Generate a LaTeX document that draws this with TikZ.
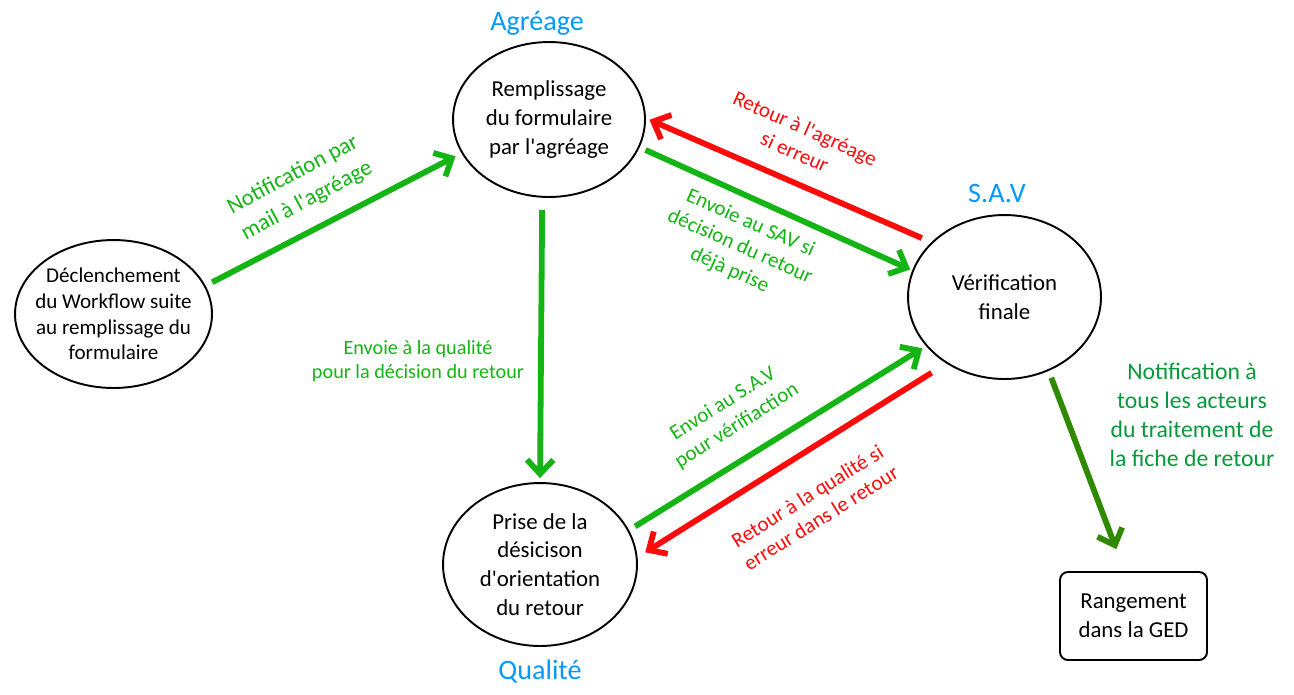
\documentclass[tikz,border=0pt]{standalone}
\usepackage{fontspec}
\setmainfont{Carlito}[Ligatures=TeXOff]
\usepackage{xcolor}
\usetikzlibrary{arrows.meta,shapes.geometric}
\definecolor{arrow_green}{HTML}{14B414}
\definecolor{dark_green}{HTML}{2F8A00}
\definecolor{text_green}{HTML}{05993A}
\definecolor{title_blue}{HTML}{0099FF}
\definecolor{arrow_red}{HTML}{FF0A0A}

\begin{document}
\begin{tikzpicture}[x=0.02cm, y=-0.02cm,
	etape/.style={draw, ellipse, line width=1.1pt, inner sep=-12pt, outer sep=0pt, align=center, font=\fontsize{13}{16.4}\selectfont},
	fleche/.style={line width=3.3pt, -{Straight Barb[length=8pt, width=15pt]}},
	legende/.style={align=center, font=\fontsize{12}{14.6}\selectfont},
	service/.style={text=title_blue, font=\fontsize{16}{19}\selectfont}]
	\useasboundingbox (0, 0) rectangle (1294, 694);
	\node[etape, font=\fontsize{12}{14.7}\selectfont, minimum width=3.94cm, minimum height=2.96cm] (decl) at (113.5, 314) {Déclenchement\\du Workflow suite\\au remplissage du\\formulaire};
	\node[etape, minimum width=3.84cm, minimum height=3.1cm] (remp) at (549, 119.5) {Remplissage\\du formulaire\\par l'agréage};
	\node[etape, minimum width=3.86cm, minimum height=3.28cm] (verif) at (1004.5, 297) {Vérification\\finale};
	\node[etape, minimum width=3.88cm, minimum height=3.26cm] (prise) at (540, 564.5) {Prise de la\\désicison\\d'orientation\\du retour};
	\node[draw, line width=1.1pt, rounded corners=4.5pt, outer sep=0pt, align=center, minimum width=2.94cm, minimum height=1.76cm, font=\fontsize{13}{16.4}\selectfont] (ged) at (1133.5, 616) {Rangement\\dans la GED};
	\node[service] (agreage) at (537, 23) {Agréage};
	\node[service] (sav) at (997, 193.5) {S.A.V};
	\node[service] (qualite) at (540, 672) {Qualité};
	\draw[fleche, arrow_green, shorten <=4.8pt, shorten >=4.3pt] (decl.17) -- (remp.201);
	\draw[fleche, arrow_green, shorten <=7.4pt, shorten >=2.8pt] (remp.265) -- (prise.north);
	\draw[fleche, arrow_green, shorten <=4.2pt, shorten >=1.8pt] (remp.-17) -- (verif.164);
	\draw[fleche, arrow_red, shorten <=6.5pt, shorten >=2.8pt] (verif.143) -- (remp.1);
	\draw[fleche, arrow_green, shorten <=4.6pt, shorten >=3pt] (prise.21) -- (verif.212);
	\draw[fleche, arrow_red, shorten <=10.5pt, shorten >=5.8pt] (verif.229) -- (prise.4);
	\draw[fleche, dark_green, shorten <=4.7pt, shorten >=13.9pt] (verif.-59) -- (ged.101);
	\node[legende, text=arrow_green, font=\fontsize{13}{16.8}\selectfont, rotate=28] (notif) at (300, 188) {Notification par\\mail à l'agréage};
	\node[legende, text=arrow_green, font=\fontsize{11.5}{14}\selectfont] (envqual) at (418, 361) {Envoie à la qualité\\pour la décision du retour};
	\node[legende, text=arrow_red, rotate=-24] (retagr) at (800, 140) {Retour à l'agréage\\si erreur};
	\node[legende, text=arrow_green, rotate=-24] (envsav) at (740, 247) {Envoie au SAV si\\décision du retour\\déjà prise};
	\node[legende, text=arrow_green, rotate=32] (envverif) at (730, 415) {Envoi au S.A.V\\pour vérifiaction};
	\node[legende, text=arrow_red, rotate=32] (retqual) at (814, 507) {Retour à la qualité si\\erreur dans le retour};
	\node[legende, text=text_green, font=\fontsize{13.5}{16.4}\selectfont] (notiftous) at (1192, 415) {Notification à\\tous les acteurs\\du traitement de\\la fiche de retour};
\end{tikzpicture}
\end{document}
